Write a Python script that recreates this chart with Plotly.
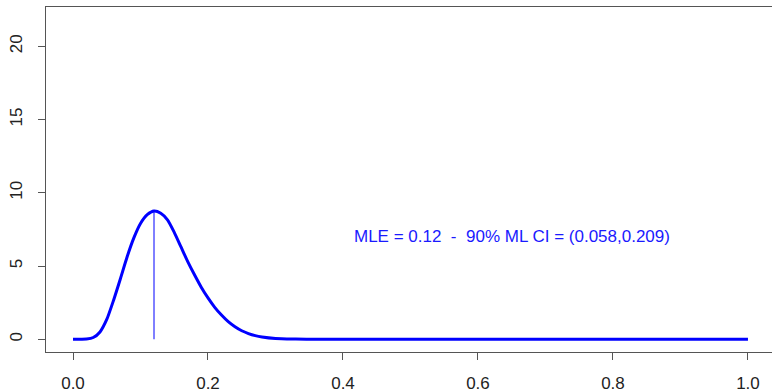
import plotly.graph_objects as go

# Likelihood curve values
theta = [0.00, 0.02, 0.03, 0.04, 0.05, 0.06, 0.07, 0.08, 0.09, 0.10, 0.11,
         0.12, 0.13, 0.14, 0.15, 0.16, 0.17, 0.18, 0.19, 0.20, 0.21, 0.22,
         0.23, 0.24, 0.25, 0.26, 0.27, 0.28, 0.30, 0.33, 0.36, 0.45, 0.55,
         0.65, 0.75, 0.85, 0.95, 1.00]
density = [0.0, 0.02, 0.12, 0.5, 1.35, 2.65, 4.1, 5.6, 6.9, 7.9, 8.5,
           8.75, 8.6, 8.15, 7.3, 6.3, 5.3, 4.4, 3.55, 2.82, 2.18, 1.65,
           1.2, 0.85, 0.58, 0.39, 0.25, 0.16, 0.06, 0.02, 0.0, 0.0, 0.0,
           0.0, 0.0, 0.0, 0.0, 0.0]

mle = 0.12
mle_peak = 8.75
label_text = "MLE = 0.12 \u00a0- \u00a090% ML CI = (0.058,0.209)"
label_pos = (0.65, 7)

x_ticks = [0.0, 0.2, 0.4, 0.6, 0.8, 1.0]
x_tick_text = ["0.0", "0.2", "0.4", "0.6", "0.8", "1.0"]
y_ticks = [0, 5, 10, 15, 20]

fig = go.Figure()
fig.add_trace(go.Scatter(
    x=theta, y=density, mode="lines",
    line=dict(color="#0000FF", width=3, shape="spline", smoothing=0.6),
    hoverinfo="skip", showlegend=False))
fig.add_trace(go.Scatter(
    x=[mle, mle], y=[0, mle_peak], mode="lines",
    line=dict(color="#0000FF", width=1),
    hoverinfo="skip", showlegend=False))

fig.add_annotation(x=label_pos[0], y=label_pos[1], text=label_text,
                   showarrow=False, xanchor="center", yanchor="middle",
                   font=dict(family="Liberation Sans, Arial", size=17, color="#1a1aff"))

axis_font = dict(family="Liberation Sans, Arial", size=17, color="#222")
fig.update_layout(
    width=772, height=392,
    margin=dict(l=46, r=0, t=7, b=40),
    plot_bgcolor="white", paper_bgcolor="white",
    xaxis=dict(range=[-0.04, 1.0356], tickvals=x_ticks, ticktext=x_tick_text,
               showgrid=False, zeroline=False, showline=True, mirror=True,
               linecolor="#555", linewidth=1, ticks="outside", ticklen=7,
               tickcolor="#555", tickfont=axis_font, ticklabelstandoff=9),
    yaxis=dict(range=[-0.87, 22.68], tickvals=y_ticks,
               showgrid=False, zeroline=False, showline=True, mirror=False,
               linecolor="#555", linewidth=1, ticks="outside", ticklen=7,
               tickcolor="#555", tickfont=axis_font, tickangle=-90,
               ticklabelstandoff=9),
)

fig.write_html("out.html")
